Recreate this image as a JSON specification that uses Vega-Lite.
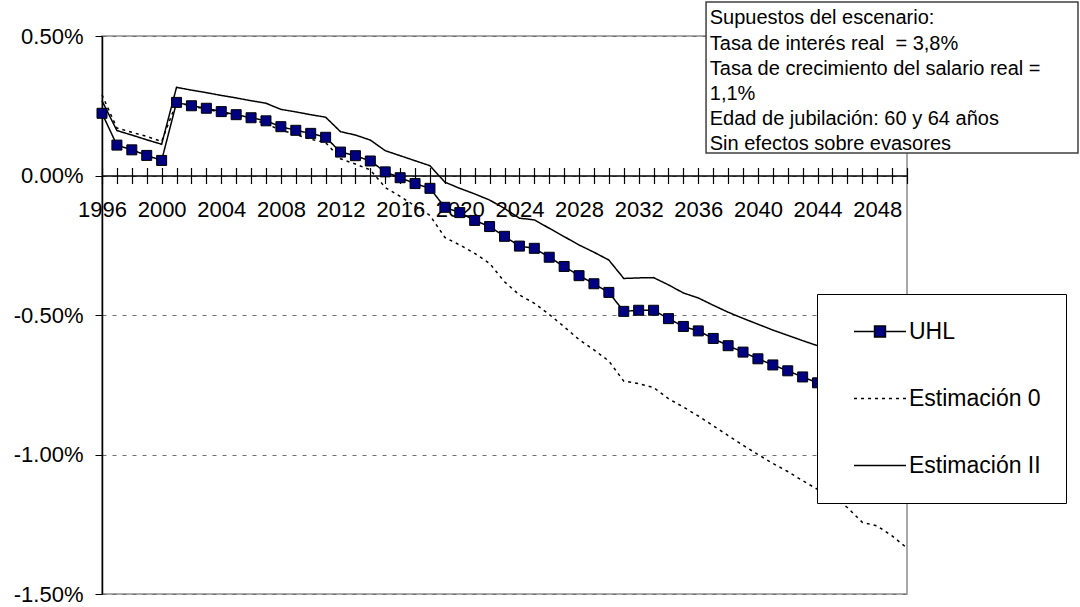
{
  "$schema": "https://vega.github.io/schema/vega-lite/v6.json",
  "width": 805,
  "height": 558,
  "autosize": {"type": "none"},
  "padding": {"left": 102, "top": 36, "right": 173, "bottom": 13},
  "background": "white",
  "config": {
    "font": "Liberation Sans",
    "view": {"stroke": "#8c8c8c", "strokeWidth": 1.5},
    "axis": {"labelFont": "Liberation Sans", "labelColor": "black"}
  },
  "layer": [
    {
      "data": {
        "values": [
          {"anio": 1996, "UHL": 0.223, "Estimación 0": 0.289, "Estimación II": 0.268},
          {"anio": 1997, "UHL": 0.109, "Estimación 0": 0.170, "Estimación II": 0.161},
          {"anio": 1998, "UHL": 0.092, "Estimación 0": 0.155, "Estimación II": 0.145},
          {"anio": 1999, "UHL": 0.072, "Estimación 0": 0.140, "Estimación II": 0.128},
          {"anio": 2000, "UHL": 0.054, "Estimación 0": 0.122, "Estimación II": 0.112},
          {"anio": 2001, "UHL": 0.262, "Estimación 0": 0.262, "Estimación II": 0.316},
          {"anio": 2002, "UHL": 0.250, "Estimación 0": 0.249, "Estimación II": 0.306},
          {"anio": 2003, "UHL": 0.241, "Estimación 0": 0.238, "Estimación II": 0.297},
          {"anio": 2004, "UHL": 0.229, "Estimación 0": 0.226, "Estimación II": 0.287},
          {"anio": 2005, "UHL": 0.218, "Estimación 0": 0.214, "Estimación II": 0.278},
          {"anio": 2006, "UHL": 0.207, "Estimación 0": 0.202, "Estimación II": 0.268},
          {"anio": 2007, "UHL": 0.196, "Estimación 0": 0.185, "Estimación II": 0.259},
          {"anio": 2008, "UHL": 0.175, "Estimación 0": 0.163, "Estimación II": 0.237},
          {"anio": 2009, "UHL": 0.162, "Estimación 0": 0.147, "Estimación II": 0.228},
          {"anio": 2010, "UHL": 0.151, "Estimación 0": 0.130, "Estimación II": 0.218},
          {"anio": 2011, "UHL": 0.137, "Estimación 0": 0.118, "Estimación II": 0.209},
          {"anio": 2012, "UHL": 0.084, "Estimación 0": 0.060, "Estimación II": 0.157},
          {"anio": 2013, "UHL": 0.071, "Estimación 0": 0.041, "Estimación II": 0.145},
          {"anio": 2014, "UHL": 0.052, "Estimación 0": 0.020, "Estimación II": 0.127},
          {"anio": 2015, "UHL": 0.013, "Estimación 0": -0.043, "Estimación II": 0.089},
          {"anio": 2016, "UHL": -0.008, "Estimación 0": -0.075, "Estimación II": 0.071},
          {"anio": 2017, "UHL": -0.029, "Estimación 0": -0.109, "Estimación II": 0.053},
          {"anio": 2018, "UHL": -0.046, "Estimación 0": -0.143, "Estimación II": 0.035},
          {"anio": 2019, "UHL": -0.114, "Estimación 0": -0.222, "Estimación II": -0.024},
          {"anio": 2020, "UHL": -0.133, "Estimación 0": -0.249, "Estimación II": -0.046},
          {"anio": 2021, "UHL": -0.161, "Estimación 0": -0.279, "Estimación II": -0.066},
          {"anio": 2022, "UHL": -0.183, "Estimación 0": -0.315, "Estimación II": -0.088},
          {"anio": 2023, "UHL": -0.218, "Estimación 0": -0.381, "Estimación II": -0.118},
          {"anio": 2024, "UHL": -0.253, "Estimación 0": -0.428, "Estimación II": -0.153},
          {"anio": 2025, "UHL": -0.261, "Estimación 0": -0.458, "Estimación II": -0.159},
          {"anio": 2026, "UHL": -0.293, "Estimación 0": -0.498, "Estimación II": -0.189},
          {"anio": 2027, "UHL": -0.326, "Estimación 0": -0.542, "Estimación II": -0.219},
          {"anio": 2028, "UHL": -0.359, "Estimación 0": -0.588, "Estimación II": -0.249},
          {"anio": 2029, "UHL": -0.388, "Estimación 0": -0.625, "Estimación II": -0.275},
          {"anio": 2030, "UHL": -0.419, "Estimación 0": -0.665, "Estimación II": -0.303},
          {"anio": 2031, "UHL": -0.487, "Estimación 0": -0.737, "Estimación II": -0.369},
          {"anio": 2032, "UHL": -0.483, "Estimación 0": -0.746, "Estimación II": -0.367},
          {"anio": 2033, "UHL": -0.483, "Estimación 0": -0.760, "Estimación II": -0.366},
          {"anio": 2034, "UHL": -0.513, "Estimación 0": -0.800, "Estimación II": -0.392},
          {"anio": 2035, "UHL": -0.541, "Estimación 0": -0.830, "Estimación II": -0.421},
          {"anio": 2036, "UHL": -0.557, "Estimación 0": -0.862, "Estimación II": -0.439},
          {"anio": 2037, "UHL": -0.584, "Estimación 0": -0.897, "Estimación II": -0.465},
          {"anio": 2038, "UHL": -0.610, "Estimación 0": -0.932, "Estimación II": -0.490},
          {"anio": 2039, "UHL": -0.633, "Estimación 0": -0.967, "Estimación II": -0.512},
          {"anio": 2040, "UHL": -0.657, "Estimación 0": -1.000, "Estimación II": -0.533},
          {"anio": 2041, "UHL": -0.679, "Estimación 0": -1.032, "Estimación II": -0.554},
          {"anio": 2042, "UHL": -0.700, "Estimación 0": -1.061, "Estimación II": -0.573},
          {"anio": 2043, "UHL": -0.722, "Estimación 0": -1.094, "Estimación II": -0.592},
          {"anio": 2044, "UHL": -0.743, "Estimación 0": -1.125, "Estimación II": -0.610},
          {"anio": 2045, "UHL": -0.765, "Estimación 0": -1.150, "Estimación II": -0.628},
          {"anio": 2046, "UHL": -0.787, "Estimación 0": -1.190, "Estimación II": -0.646},
          {"anio": 2047, "UHL": -0.809, "Estimación 0": -1.243, "Estimación II": -0.664},
          {"anio": 2048, "UHL": -0.831, "Estimación 0": -1.256, "Estimación II": -0.682},
          {"anio": 2049, "UHL": -0.853, "Estimación 0": -1.292, "Estimación II": -0.700},
          {"anio": 2050, "UHL": -0.875, "Estimación 0": -1.335, "Estimación II": -0.718}
        ]
      },
      "transform": [
        {"fold": ["UHL", "Estimación 0", "Estimación II"], "as": ["serie", "valor"]}
      ],
      "layer": [
        {
          "mark": {"type": "line", "color": "black", "strokeWidth": 1.5},
          "encoding": {
            "x": {
              "field": "anio", "type": "quantitative",
              "scale": {"domain": [1996, 2050], "nice": false, "zero": false},
              "axis": {
                "orient": "bottom", "offset": -418.5, "tickCount": 54,
                "labelExpr": "(datum.value - 1996) % 4 == 0 ? format(datum.value, 'd') : ''",
                "labelFontSize": 22, "labelPadding": 16, "tickSize": 8, "tickWidth": 1.2,
                "domainColor": "black", "domainWidth": 1.5, "tickColor": "black",
                "grid": false, "title": null, "labelOverlap": false, "labelFlush": false
              }
            },
            "y": {
              "field": "valor", "type": "quantitative",
              "scale": {"domain": [-1.5, 0.5], "nice": false, "zero": false},
              "axis": {
                "values": [-1.5, -1, -0.5, 0, 0.5],
                "labelExpr": "replace(format(datum.value, '.2f'), '\u2212', '-') + '%'",
                "labelFontSize": 22, "labelPadding": 12, "tickSize": 7,
                "domainColor": "black", "domainWidth": 1.5, "tickColor": "black",
                "grid": true, "gridDash": [4, 6], "gridColor": "#707070", "gridWidth": 1,
                "title": null
              }
            },
            "detail": {"field": "serie"},
            "strokeDash": {
              "field": "serie", "type": "nominal",
              "scale": {"domain": ["UHL", "Estimación 0", "Estimación II"], "range": [[1, 0], [3, 4], [1, 0]]},
              "legend": {
                "orient": "none", "legendX": 715, "legendY": 258, "title": null,
                "padding": 25, "strokeColor": "black", "fillColor": "white",
                "symbolType": "stroke", "symbolSize": 2704, "symbolStrokeWidth": 1.5,
                "symbolStrokeColor": "black", "labelFontSize": 23, "labelFont": "Liberation Sans",
                "labelColor": "black", "labelOffset": 2, "rowPadding": 42, "clipHeight": 25,
                "symbolOffset": 11, "labelLimit": 400,
                "encode": {
                  "symbols": {
                    "update": {
                      "shape": {"signal": "datum.value === 'UHL' ? 'M-1,0H-0.2M0.2,0H1M-0.21,-0.21H0.21V0.21H-0.21Z' : 'stroke'"},
                      "fill": {"signal": "datum.value === 'UHL' ? '#000080' : 'transparent'"},
                      "stroke": {"value": "black"},
                      "strokeWidth": {"value": 1.5},
                      "strokeDash": {"signal": "datum.value === 'Estimación 0' ? [3, 3] : [1, 0]"},
                      "opacity": {"value": 1}
                    }
                  }
                }
              }
            }
          }
        },
        {
          "transform": [{"filter": "datum.serie === 'UHL'"}],
          "mark": {"type": "point", "shape": "square", "filled": true, "fill": "#000080", "stroke": "black", "strokeWidth": 1, "size": 100, "opacity": 1},
          "encoding": {
            "x": {"field": "anio", "type": "quantitative"},
            "y": {"field": "valor", "type": "quantitative"}
          }
        }
      ]
    },
    {
      "data": {"values": [{"nota": "Supuestos"}]},
      "mark": {"type": "rect", "fill": "white", "stroke": "#404040", "strokeWidth": 1.5},
      "encoding": {
        "x": {
          "datum": 2036.52, "type": "quantitative",
          "axis": {
            "orient": "bottom", "offset": -418.5, "tickCount": 54, "labels": false,
            "domain": false, "grid": false, "tickSize": -8, "tickWidth": 1.2,
            "tickColor": "black", "title": null
          }
        },
        "x2": {"datum": 2061.47},
        "y": {"datum": 0.622, "type": "quantitative"},
        "y2": {"datum": 0.0806}
      }
    },
    {
      "data": {"values": [{"nota": "Supuestos"}]},
      "mark": {
        "type": "text", "align": "left", "baseline": "top", "fontSize": 20,
        "font": "Liberation Sans", "color": "black", "lineHeight": 25.2,
        "text": ["Supuestos del escenario:", "Tasa de interés real\u00a0 = 3,8%", "Tasa de crecimiento del salario real =", "1,1%", "Edad de jubilación: 60 y 64 años", "Sin efectos sobre evasores"]
      },
      "encoding": {
        "x": {"datum": 2036.77, "type": "quantitative", "axis": null},
        "y": {"datum": 0.5986, "type": "quantitative"}
      }
    }
  ],
  "resolve": {"axis": {"x": "independent"}}
}
